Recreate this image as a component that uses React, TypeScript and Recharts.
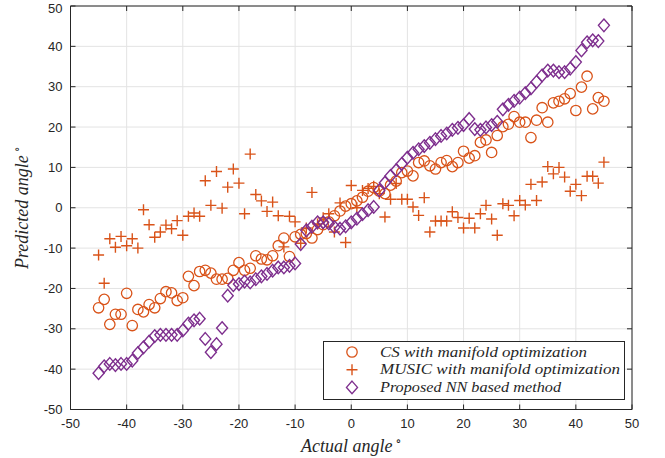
import {
  CartesianGrid,
  Scatter,
  ScatterChart,
  XAxis,
  YAxis,
} from "recharts";

const ORANGE = "#D95319";
const PURPLE = "#7E2F8E";
const AXIS = "#262626";

const ANGLES = [
  -45, -44, -43, -42, -41, -40, -39, -38, -37, -36, -35, -34, -33, -32, -31,
  -30, -29, -28, -27, -26, -25, -24, -23, -22, -21, -20, -19, -18, -17, -16,
  -15, -14, -13, -12, -11, -10, -9, -8, -7, -6, -5, -4, -3, -2, -1, 0, 1, 2,
  3, 4, 5, 6, 7, 8, 9, 10, 11, 12, 13, 14, 15, 16, 17, 18, 19, 20, 21, 22, 23,
  24, 25, 26, 27, 28, 29, 30, 31, 32, 33, 34, 35, 36, 37, 38, 39, 40, 41, 42,
  43, 44, 45,
];

const CS_PRED = [
  -24.8, -22.7, -28.9, -26.4, -26.4, -21.2, -29.2, -25.2, -25.8, -24.0, -24.8,
  -22.5, -20.8, -21.1, -23.0, -22.3, -17.0, -19.3, -15.8, -15.5, -16.2, -17.7,
  -17.7, -17.5, -15.5, -13.6, -15.5, -15.0, -11.9, -12.7, -12.9, -11.9, -9.4,
  -7.5, -12.1, -7.2, -6.6, -6.4, -7.5, -5.4, -4.2, -3.5, -2.0, -0.8, 0.4, 1.0,
  1.7, 2.6, 4.1, 5.0, 4.1, 3.5, 5.6, 6.6, 8.7, 9.1, 7.9, 11.2, 11.6, 10.4, 9.6,
  11.2, 11.7, 10.2, 11.2, 14.0, 12.3, 12.9, 16.2, 16.8, 13.7, 17.9, 20.1, 20.7,
  22.6, 21.2, 21.2, 17.4, 21.7, 24.8, 21.2, 26.0, 26.4, 27.0, 28.3, 24.1, 29.9,
  32.6, 24.5, 27.3, 26.4,
];

const MUSIC_PRED = [
  -11.7, -18.7, -7.7, -9.8, -7.1, -9.4, -7.7, -10.0, -0.5, -4.2, -7.3, -6.0,
  -4.3, -5.2, -3.2, -6.8, -2.1, -1.3, -2.1, 6.7, 0.6, 9.0, -0.1, 5.1, 9.6, 6.1,
  -1.5, 13.3, 3.3, 1.7, -0.9, 1.4, -2.0, -9.7, -2.1, -3.5, -8.8, -5.0, 3.8,
  -4.0, -2.5, -1.5, -6.0, 1.2, -8.6, 5.5, 0.0, 4.3, 4.8, 5.3, 3.5, -2.3, 2.1,
  6.0, 2.1, 2.1, 0.2, -1.9, 2.5, -6.0, -3.3, -3.3, -3.3, -1.0, -2.4, -5.0, -2.6,
  -5.0, -1.5, 0.6, -2.8, -6.8, 1.0, 0.6, -2.0, 1.8, 0.7, 5.8, 1.8, 6.4, 10.2,
  8.4, 10.0, 7.6, 4.1, 5.8, 3.0, 7.8, 7.8, 6.1, 11.3,
];

const NN_PRED = [
  -41.0, -39.3, -38.7, -39.0, -38.7, -38.7, -37.9, -36.0, -34.6, -33.2, -31.8,
  -31.5, -31.5, -31.5, -31.5, -30.4, -28.7, -27.9, -27.5, -32.5, -35.8, -33.8,
  -29.8, -21.8, -19.2, -18.9, -18.3, -18.5, -17.7, -17.0, -16.4, -15.6, -14.8,
  -14.8, -14.4, -13.8, -9.0, -5.6, -4.7, -3.6, -3.6, -3.9, -4.8, -5.2, -4.6,
  -3.6, -2.7, -1.6, -0.6, 0.2, 4.3, 6.2, 7.9, 9.3, 10.9, 12.4, 13.6, 14.5, 15.3,
  16.1, 17.0, 17.8, 18.4, 19.3, 19.8, 20.5, 22.0, 19.5, 19.3, 19.9, 20.5, 21.3,
  24.4, 25.5, 26.5, 27.3, 28.4, 29.6, 31.2, 32.8, 34.0, 34.0, 33.6, 33.6, 34.5,
  36.1, 39.0, 41.0, 41.5, 41.3, 45.2,
];

const TICKS = [-50, -40, -30, -20, -10, 0, 10, 20, 30, 40, 50];

const SERIES_NAMES = [
  "CS with manifold optimization",
  "MUSIC with manifold optimization",
  "Proposed NN based method",
];

const csData = ANGLES.map((x, i) => ({ x, y: CS_PRED[i] }));
const musicData = ANGLES.map((x, i) => ({ x, y: MUSIC_PRED[i] }));
const nnData = ANGLES.map((x, i) => ({ x, y: NN_PRED[i] }));

function CircleMark({ cx, cy }: any) {
  if (cx == null || cy == null) return null;
  return <circle cx={cx} cy={cy} r={5.2} fill="none" stroke={ORANGE} strokeWidth={1.3} />;
}

function PlusMark({ cx, cy }: any) {
  if (cx == null || cy == null) return null;
  const s = 5.5;
  return (
    <path
      d={`M${cx - s},${cy}H${cx + s}M${cx},${cy - s}V${cy + s}`}
      stroke={ORANGE}
      strokeWidth={1.4}
      fill="none"
    />
  );
}

function DiamondMark({ cx, cy }: any) {
  if (cx == null || cy == null) return null;
  const w = 5.5;
  const h = 6.3;
  return (
    <path
      d={`M${cx},${cy - h}L${cx + w},${cy}L${cx},${cy + h}L${cx - w},${cy}Z`}
      stroke={PURPLE}
      strokeWidth={1.4}
      fill="none"
    />
  );
}

const tickFont = {
  fontSize: 13,
  fill: AXIS,
  fontFamily: "'Liberation Sans', Arial, sans-serif",
};

const titleStyle = {
  fontSize: 18,
  fontStyle: "italic",
  fontFamily: "'Liberation Serif', 'DejaVu Serif', serif",
  fill: AXIS,
};

function LegendBox() {
  const widths = [207, 240, 181];
  return (
    <svg width={302} height={59} style={{ display: "block" }}>
      <rect x={0.5} y={0.5} width={301} height={58} fill="#fff" stroke={AXIS} strokeWidth={1} />
      {SERIES_NAMES.map((name, i) => {
        const cy = 11 + i * 17.7;
        return (
          <g key={name}>
            {i === 0 && <CircleMark cx={29} cy={cy} />}
            {i === 1 && <PlusMark cx={29} cy={cy} />}
            {i === 2 && <DiamondMark cx={29} cy={cy} />}
            <text
              x={57}
              y={cy + 4.5}
              textLength={widths[i]}
              lengthAdjust="spacingAndGlyphs"
              style={{ ...titleStyle, fontSize: 14 }}
            >
              {name}
            </text>
          </g>
        );
      })}
    </svg>
  );
}

export default function App() {
  return (
    <div style={{ position: "fixed", left: 0, top: 0, width: 665, height: 458, background: "#fff" }}>
      <ScatterChart
        width={665}
        height={458}
        margin={{ top: 5, right: 32, left: 69.5, bottom: 47.5 }}
      >
        <CartesianGrid stroke="#e3e3e3" strokeWidth={1} />
        <XAxis
          type="number"
          dataKey="x"
          domain={[-50, 50]}
          ticks={TICKS}
          allowDataOverflow
          height={1}
          tickSize={-5}
          tickMargin={14}
          tick={tickFont}
          stroke={AXIS}
          label={{
            content: ({ viewBox }: any) => (
              <text
                x={viewBox.x + viewBox.width / 2}
                y={viewBox.y + 42}
                textAnchor="middle"
                style={titleStyle}
              >
                Actual angle
                <tspan dx={3} dy={-7} fontSize={12}>
                  ∘
                </tspan>
              </text>
            ),
          }}
        />
        <XAxis
          xAxisId="top"
          orientation="top"
          type="number"
          dataKey="x"
          domain={[-50, 50]}
          ticks={TICKS}
          allowDataOverflow
          height={1}
          tickSize={-5}
          tickFormatter={() => ""}
          stroke={AXIS}
        />
        <YAxis
          type="number"
          dataKey="y"
          domain={[-50, 50]}
          ticks={TICKS}
          allowDataOverflow
          width={1}
          tickSize={-5}
          tickMargin={13}
          tick={tickFont}
          stroke={AXIS}
          label={{
            content: ({ viewBox }: any) => {
              const cx = viewBox.x - 42;
              const cy = viewBox.y + viewBox.height / 2;
              return (
                <text
                  x={cx}
                  y={cy}
                  textAnchor="middle"
                  transform={`rotate(-90 ${cx} ${cy})`}
                  style={titleStyle}
                >
                  Predicted angle
                  <tspan dx={3} dy={-7} fontSize={12}>
                    ∘
                  </tspan>
                </text>
              );
            },
          }}
        />
        <YAxis
          yAxisId="right"
          orientation="right"
          type="number"
          dataKey="y"
          domain={[-50, 50]}
          ticks={TICKS}
          allowDataOverflow
          width={1}
          tickSize={-5}
          tickFormatter={() => ""}
          stroke={AXIS}
        />
        <Scatter
          name={SERIES_NAMES[0]}
          data={csData}
          shape={CircleMark}
          isAnimationActive={false}
        />
        <Scatter
          name={SERIES_NAMES[1]}
          data={musicData}
          shape={PlusMark}
          isAnimationActive={false}
        />
        <Scatter
          name={SERIES_NAMES[2]}
          data={nnData}
          shape={DiamondMark}
          isAnimationActive={false}
        />
      </ScatterChart>
      <div style={{ position: "absolute", left: 323, top: 341 }}>
        <LegendBox />
      </div>
    </div>
  );
}
